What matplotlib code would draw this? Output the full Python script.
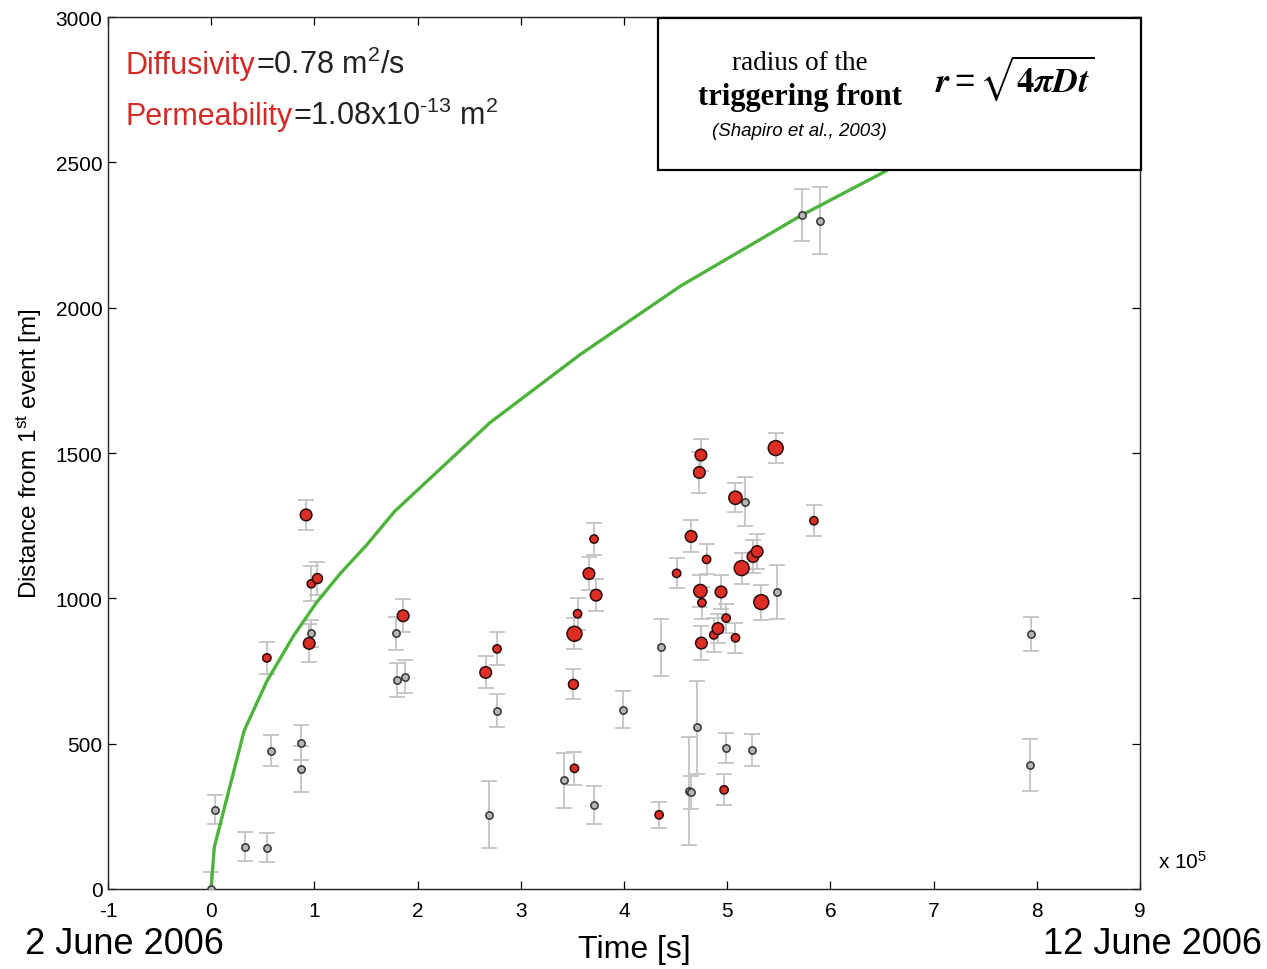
import matplotlib
matplotlib.use('Agg')
import matplotlib.pyplot as plt
from matplotlib.patches import Rectangle
import numpy as np

plt.rcParams['font.family'] = ['Liberation Sans', 'DejaVu Sans']
plt.rcParams['mathtext.fontset'] = 'custom'
plt.rcParams['mathtext.rm'] = 'Liberation Sans'
plt.rcParams['mathtext.it'] = 'Liberation Sans:italic'
plt.rcParams['mathtext.default'] = 'regular'
plt.rcParams['axes.unicode_minus'] = False

# time in units of 1e5 s, distance in m
front_t = [0, 0.03, 0.32, 0.54, 0.80, 1.02, 1.25, 1.51, 1.78, 2.70, 3.58, 4.55, 5.72, 6.51, 7.3]
front_r = [0, 143, 545, 715, 872, 985, 1085, 1185, 1300, 1604, 1840, 2075, 2318, 2465, 2640]

gray_t = [0.00, 0.04, 0.33, 0.54, 0.58, 0.87, 0.87, 0.97, 1.79, 1.80, 1.88, 2.69, 2.77, 3.42,
          3.71, 3.99, 4.36, 4.63, 4.65, 4.71, 4.99, 5.17, 5.24, 5.48, 5.72, 5.90, 7.94, 7.93]
gray_r = [0, 272, 145, 142, 476, 503, 413, 879, 879, 720, 731, 255, 613, 374,
          289, 617, 832, 337, 333, 557, 485, 1333, 477, 1022, 2318, 2299, 877, 427]
gray_err = [60, 50, 50, 50, 53, 60, 80, 48, 58, 58, 56, 115, 57, 95,
            67, 63, 98, 185, 57, 160, 50, 85, 55, 92, 90, 116, 58, 90]

red_t = [0.54, 0.92, 0.97, 1.03, 0.95, 1.86, 2.66, 2.77, 3.51, 3.52, 3.52, 3.55, 3.66, 3.71,
         3.73, 4.34, 4.51, 4.65, 4.73, 4.745, 4.74, 4.755, 4.75, 4.80, 4.87, 4.91, 4.94, 4.97,
         4.99, 5.08, 5.08, 5.14, 5.25, 5.29, 5.33, 5.47, 5.84]
red_r = [795, 1287, 1050, 1068, 845, 940, 745, 826, 704, 878, 415, 947, 1085, 1204,
         1011, 255, 1086, 1213, 1433, 1493, 1025, 985, 846, 1134, 874, 896, 1022, 341,
         932, 1346, 864, 1104, 1144, 1161, 987, 1517, 1267]
red_err = [55, 53, 60, 56, 65, 56, 55, 57, 52, 53, 56, 55, 58, 56,
           56, 45, 52, 55, 70, 55, 55, 55, 58, 52, 60, 50, 57, 53,
           50, 50, 52, 53, 58, 60, 60, 53, 54]
red_mag = [1, 2, 1, 1.5, 2, 2, 2, 1, 1.5, 3, 1, 1, 2, 1,
           2, 1, 1, 2, 2, 2, 2.5, 1, 2, 1, 1, 2, 2, 1,
           1, 2.5, 1, 3, 2, 2, 3, 3, 1]

fig = plt.figure(figsize=(12.67, 9.70), dpi=100)
ax = fig.add_axes([0.0852, 0.0825, 0.8146, 0.8989])

errc = '#c4c4c4'
ax.errorbar(gray_t, gray_r, yerr=gray_err, fmt='none', ecolor=errc, elinewidth=1.3,
            capsize=6, capthick=1.3, zorder=2)
ax.errorbar(red_t, red_r, yerr=red_err, fmt='none', ecolor=errc, elinewidth=1.3,
            capsize=6, capthick=1.3, zorder=2)

ax.plot(front_t, front_r, color='#4db33d', lw=2.4, zorder=3, solid_capstyle='round')

ax.scatter(gray_t, gray_r, s=(7.3 * 0.72) ** 2, c='#b5b5b5', edgecolors='#333333',
           linewidths=1.1, zorder=4)
diam = (5 + 3.3 * np.array(red_mag)) * 0.72
ax.scatter(red_t, red_r, s=diam ** 2, c='#dd2e26', edgecolors='#2a0c0c',
           linewidths=1.1, zorder=5)

ax.set_xlim(-1, 9)
ax.set_ylim(0, 3000)
ax.set_xticks(range(-1, 10))
ax.set_yticks(range(0, 3001, 500))
ax.tick_params(direction='in', length=6, width=0.9, top=True, right=True,
               labelsize=15)
ax.tick_params(axis='x', pad=9)
ax.tick_params(axis='y', pad=4)
for s in ax.spines.values():
    s.set_linewidth(1.0)
    s.set_color('#222222')
ax.set_ylabel('Distance from 1$^{st}$ event [m]', fontsize=17.5, labelpad=8)

# parameter annotation
red = '#d42a26'
t1 = ax.text(0.0174, 0.945, 'Diffusivity', color=red, fontsize=22,
             transform=ax.transAxes, va='center')
ax.annotate('=0.78 m$^2$/s', xy=(1, 0), xycoords=t1, fontsize=22, va='bottom',
            color='#222222')
t2 = ax.text(0.0174, 0.886, 'Permeability', color=red, fontsize=22,
             transform=ax.transAxes, va='center')
ax.annotate('=1.08x10$^{\u2010 13}$ m$^2$', xy=(1, 0), xycoords=t2, fontsize=22,
            va='bottom', color='#222222')

# box with equation
ax.add_patch(Rectangle((0.533, 0.8245), 0.468, 0.1745, transform=ax.transAxes,
                       facecolor='white', edgecolor='black', lw=1.6, zorder=10,
                       clip_on=False))
ax.text(0.6705, 0.948, 'radius of the', transform=ax.transAxes, ha='center',
        va='center', fontsize=19.5, family='Liberation Serif', zorder=11)
ax.text(0.6705, 0.909, 'triggering front', transform=ax.transAxes, ha='center',
        va='center', fontsize=22, family='Liberation Serif', weight='bold', zorder=11)
ax.text(0.670, 0.870, '(Shapiro et al., 2003)', transform=ax.transAxes, ha='center',
        va='center', fontsize=13.5, style='italic', zorder=11)
ax.text(0.878, 0.931, r'$\mathbfit{r} = \sqrt{\mathbf{4}\mathbfit{\pi D t}}$',
        transform=ax.transAxes, ha='center', va='center', fontsize=25,
        math_fontfamily='stix', zorder=11)

fig.text(0.914, 0.111, 'x 10$^5$', fontsize=15, va='center')
fig.text(0.0197, 0.0258, '2 June 2006', fontsize=26, va='center', ha='left')
fig.text(0.996, 0.0258, '12 June 2006', fontsize=26, va='center', ha='right')
fig.text(0.501, 0.0206, 'Time [s]', fontsize=23, va='center', ha='center')

fig.savefig('out.png', dpi=100)
